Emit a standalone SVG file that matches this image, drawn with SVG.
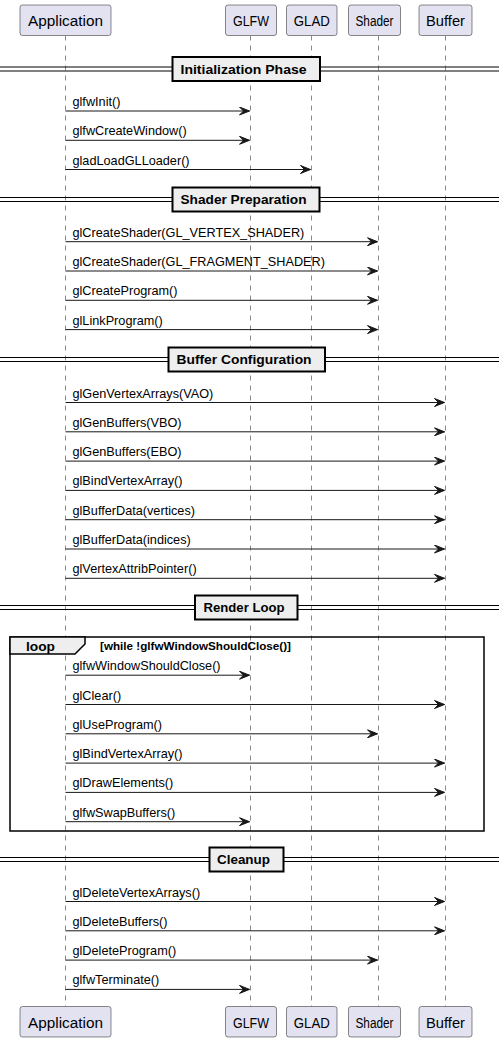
<svg xmlns="http://www.w3.org/2000/svg" width="499" height="1042" viewBox="0 0 499 1042">
<style>
.bg{fill:#FFFFFF}
.life{stroke:#181818;stroke-width:0.5;stroke-dasharray:5,5;fill:none}
.pbox{fill:#E2E2F0;stroke:#181818;stroke-width:0.5}
.ptxt{font-family:"Liberation Sans",Arial,sans-serif;font-size:14px;fill:#000000;text-anchor:middle}
.msg{stroke:#181818;stroke-width:1;fill:none}
.mtxt{font-family:"Liberation Sans",Arial,sans-serif;font-size:12.7px;fill:#000000}
.dline{stroke:#000000;stroke-width:1}
.dbox{fill:#EEEEEE;stroke:#000000;stroke-width:2}
.dtxt{font-family:"Liberation Sans",Arial,sans-serif;font-size:13px;font-weight:bold;fill:#000000}
.loopbox{fill:none;stroke:#000000;stroke-width:1.5}
.looptab{fill:#EEEEEE;stroke:#000000;stroke-width:1.5}
.ltxt{font-family:"Liberation Sans",Arial,sans-serif;font-weight:bold;fill:#000000}
</style>
<defs>
<marker id="ah" markerUnits="userSpaceOnUse" markerWidth="11" markerHeight="9" viewBox="0 0 11 9" refX="10.5" refY="4.5" orient="auto">
<path d="M0.5,0.5 L10.5,4.5 L0.5,8.5 L4.5,4.5 Z" fill="#181818" stroke="#181818" stroke-width="1"/>
</marker>
</defs>
<rect class="bg" x="0" y="0" width="499" height="1042"/>

<g id="lifelines">
<line class="life" x1="65.5" y1="35.5" x2="65.5" y2="1006.5"/>
<line class="life" x1="250.5" y1="35.5" x2="250.5" y2="1006.5"/>
<line class="life" x1="311.5" y1="35.5" x2="311.5" y2="1006.5"/>
<line class="life" x1="378.5" y1="35.5" x2="378.5" y2="1006.5"/>
<line class="life" x1="445.5" y1="35.5" x2="445.5" y2="1006.5"/>
</g>

<g id="loop">
<rect class="loopbox" x="10" y="637" width="474" height="194"/>
<polygon class="looptab" points="10,637 85,637 85,644 75,654 10,654"/>
<text class="ltxt" x="26" y="650.5" font-size="13" textLength="29" lengthAdjust="spacingAndGlyphs">loop</text>
<text class="ltxt" x="100" y="649.5" font-size="11" textLength="191" lengthAdjust="spacingAndGlyphs">[while !glfwWindowShouldClose()]</text>
</g>

<g id="dividers">
<g id="div-init">
<line class="dline" x1="0" y1="67" x2="499" y2="67"/>
<line class="dline" x1="0" y1="71" x2="499" y2="71"/>
<rect class="dbox" x="172.5" y="57" width="147.5" height="24"/>
<text class="dtxt" x="180.5" y="73.5" textLength="126" lengthAdjust="spacingAndGlyphs">Initialization Phase</text>
</g>
<g id="div-shader">
<line class="dline" x1="0" y1="197.5" x2="499" y2="197.5"/>
<line class="dline" x1="0" y1="201.5" x2="499" y2="201.5"/>
<rect class="dbox" x="172.5" y="187.5" width="147" height="24"/>
<text class="dtxt" x="180.5" y="204" textLength="126" lengthAdjust="spacingAndGlyphs">Shader Preparation</text>
</g>
<g id="div-buffer">
<line class="dline" x1="0" y1="357.5" x2="499" y2="357.5"/>
<line class="dline" x1="0" y1="361.5" x2="499" y2="361.5"/>
<rect class="dbox" x="168.5" y="347.5" width="156.5" height="24"/>
<text class="dtxt" x="176.5" y="364" textLength="135" lengthAdjust="spacingAndGlyphs">Buffer Configuration</text>
</g>
<g id="div-render">
<line class="dline" x1="0" y1="605.5" x2="499" y2="605.5"/>
<line class="dline" x1="0" y1="609.5" x2="499" y2="609.5"/>
<rect class="dbox" x="195" y="595.5" width="102.5" height="24"/>
<text class="dtxt" x="203.5" y="612" textLength="81" lengthAdjust="spacingAndGlyphs">Render Loop</text>
</g>
<g id="div-cleanup">
<line class="dline" x1="0" y1="857.5" x2="499" y2="857.5"/>
<line class="dline" x1="0" y1="861.5" x2="499" y2="861.5"/>
<rect class="dbox" x="209.5" y="847.5" width="74" height="24"/>
<text class="dtxt" x="217" y="864" textLength="53" lengthAdjust="spacingAndGlyphs">Cleanup</text>
</g>
</g>

<g id="connectors">
<line class="msg" x1="65.5" y1="111" x2="249.5" y2="111" marker-end="url(#ah)"/>
<line class="msg" x1="65.5" y1="140.3" x2="249.5" y2="140.3" marker-end="url(#ah)"/>
<line class="msg" x1="65.5" y1="169.5" x2="310.5" y2="169.5" marker-end="url(#ah)"/>
<line class="msg" x1="65.5" y1="241.7" x2="377.5" y2="241.7" marker-end="url(#ah)"/>
<line class="msg" x1="65.5" y1="271" x2="377.5" y2="271" marker-end="url(#ah)"/>
<line class="msg" x1="65.5" y1="300.3" x2="377.5" y2="300.3" marker-end="url(#ah)"/>
<line class="msg" x1="65.5" y1="329.6" x2="377.5" y2="329.6" marker-end="url(#ah)"/>
<line class="msg" x1="65.5" y1="402.5" x2="444.5" y2="402.5" marker-end="url(#ah)"/>
<line class="msg" x1="65.5" y1="431.8" x2="444.5" y2="431.8" marker-end="url(#ah)"/>
<line class="msg" x1="65.5" y1="461.1" x2="444.5" y2="461.1" marker-end="url(#ah)"/>
<line class="msg" x1="65.5" y1="490.4" x2="444.5" y2="490.4" marker-end="url(#ah)"/>
<line class="msg" x1="65.5" y1="519.7" x2="444.5" y2="519.7" marker-end="url(#ah)"/>
<line class="msg" x1="65.5" y1="549" x2="444.5" y2="549" marker-end="url(#ah)"/>
<line class="msg" x1="65.5" y1="578.3" x2="444.5" y2="578.3" marker-end="url(#ah)"/>
<line class="msg" x1="65.5" y1="675.2" x2="249.5" y2="675.2" marker-end="url(#ah)"/>
<line class="msg" x1="65.5" y1="704.5" x2="444.5" y2="704.5" marker-end="url(#ah)"/>
<line class="msg" x1="65.5" y1="733.8" x2="377.5" y2="733.8" marker-end="url(#ah)"/>
<line class="msg" x1="65.5" y1="763.1" x2="444.5" y2="763.1" marker-end="url(#ah)"/>
<line class="msg" x1="65.5" y1="792.4" x2="444.5" y2="792.4" marker-end="url(#ah)"/>
<line class="msg" x1="65.5" y1="821.7" x2="249.5" y2="821.7" marker-end="url(#ah)"/>
<line class="msg" x1="65.5" y1="901.5" x2="444.5" y2="901.5" marker-end="url(#ah)"/>
<line class="msg" x1="65.5" y1="930.8" x2="444.5" y2="930.8" marker-end="url(#ah)"/>
<line class="msg" x1="65.5" y1="960.1" x2="377.5" y2="960.1" marker-end="url(#ah)"/>
<line class="msg" x1="65.5" y1="989.4" x2="249.5" y2="989.4" marker-end="url(#ah)"/>
</g>

<g id="labels">
<text class="mtxt" x="72.5" y="106">glfwInit()</text>
<text class="mtxt" x="72.5" y="135.3">glfwCreateWindow()</text>
<text class="mtxt" x="72.5" y="164.5">gladLoadGLLoader()</text>
<text class="mtxt" x="72.5" y="236.7">glCreateShader(GL_VERTEX_SHADER)</text>
<text class="mtxt" x="72.5" y="266">glCreateShader(GL_FRAGMENT_SHADER)</text>
<text class="mtxt" x="72.5" y="295.3">glCreateProgram()</text>
<text class="mtxt" x="72.5" y="324.6">glLinkProgram()</text>
<text class="mtxt" x="72.5" y="397.5">glGenVertexArrays(VAO)</text>
<text class="mtxt" x="72.5" y="426.8">glGenBuffers(VBO)</text>
<text class="mtxt" x="72.5" y="456.1">glGenBuffers(EBO)</text>
<text class="mtxt" x="72.5" y="485.4">glBindVertexArray()</text>
<text class="mtxt" x="72.5" y="514.7">glBufferData(vertices)</text>
<text class="mtxt" x="72.5" y="544">glBufferData(indices)</text>
<text class="mtxt" x="72.5" y="573.3">glVertexAttribPointer()</text>
<text class="mtxt" x="72.5" y="670.2">glfwWindowShouldClose()</text>
<text class="mtxt" x="72.5" y="699.5">glClear()</text>
<text class="mtxt" x="72.5" y="728.8">glUseProgram()</text>
<text class="mtxt" x="72.5" y="758.1">glBindVertexArray()</text>
<text class="mtxt" x="72.5" y="787.4">glDrawElements()</text>
<text class="mtxt" x="72.5" y="816.7">glfwSwapBuffers()</text>
<text class="mtxt" x="72.5" y="896.5">glDeleteVertexArrays()</text>
<text class="mtxt" x="72.5" y="925.8">glDeleteBuffers()</text>
<text class="mtxt" x="72.5" y="955.1">glDeleteProgram()</text>
<text class="mtxt" x="72.5" y="984.4">glfwTerminate()</text>
</g>

<g id="Application">
<rect class="pbox" x="20" y="5" width="91" height="30.5" rx="2.5"/>
<text class="ptxt" x="65.5" y="26" textLength="75" lengthAdjust="spacingAndGlyphs">Application</text>
<rect class="pbox" x="20" y="1006.5" width="91" height="30.5" rx="2.5"/>
<text class="ptxt" x="65.5" y="1027.5" textLength="75" lengthAdjust="spacingAndGlyphs">Application</text>
</g>
<g id="GLFW">
<rect class="pbox" x="225.5" y="5" width="51" height="30.5" rx="2.5"/>
<text class="ptxt" x="251" y="26" textLength="36" lengthAdjust="spacingAndGlyphs">GLFW</text>
<rect class="pbox" x="225.5" y="1006.5" width="51" height="30.5" rx="2.5"/>
<text class="ptxt" x="251" y="1027.5" textLength="36" lengthAdjust="spacingAndGlyphs">GLFW</text>
</g>
<g id="GLAD">
<rect class="pbox" x="286.5" y="5" width="50.5" height="30.5" rx="2.5"/>
<text class="ptxt" x="311.75" y="26" textLength="36" lengthAdjust="spacingAndGlyphs">GLAD</text>
<rect class="pbox" x="286.5" y="1006.5" width="50.5" height="30.5" rx="2.5"/>
<text class="ptxt" x="311.75" y="1027.5" textLength="36" lengthAdjust="spacingAndGlyphs">GLAD</text>
</g>
<g id="Shader">
<rect class="pbox" x="348.5" y="5" width="52" height="30.5" rx="2.5"/>
<text class="ptxt" x="374.5" y="26" textLength="38" lengthAdjust="spacingAndGlyphs">Shader</text>
<rect class="pbox" x="348.5" y="1006.5" width="52" height="30.5" rx="2.5"/>
<text class="ptxt" x="374.5" y="1027.5" textLength="38" lengthAdjust="spacingAndGlyphs">Shader</text>
</g>
<g id="Buffer">
<rect class="pbox" x="419" y="5" width="53" height="30.5" rx="2.5"/>
<text class="ptxt" x="445.5" y="26" textLength="39" lengthAdjust="spacingAndGlyphs">Buffer</text>
<rect class="pbox" x="419" y="1006.5" width="53" height="30.5" rx="2.5"/>
<text class="ptxt" x="445.5" y="1027.5" textLength="39" lengthAdjust="spacingAndGlyphs">Buffer</text>
</g>
</svg>
